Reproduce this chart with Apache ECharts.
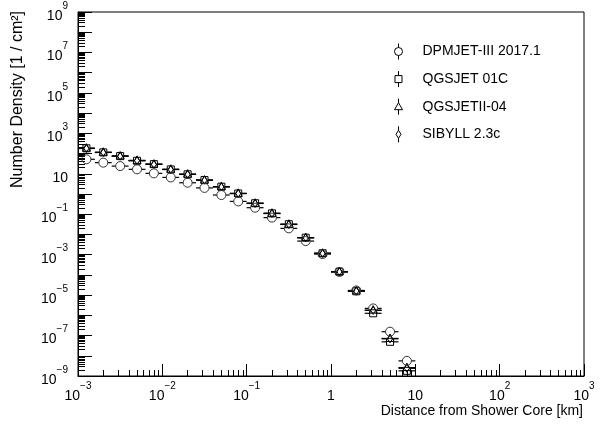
<!DOCTYPE html>
<html>
<head>
<meta charset="utf-8">
<script src="https://cdn.jsdelivr.net/npm/echarts@6/dist/echarts.min.js"></script>
<style>
  html, body { margin: 0; padding: 0; background: #ffffff; }
  #chart { width: 607px; height: 425px; }
</style>
</head>
<body>
<div id="chart"></div>
<script>
// Bin centres of the lateral distribution (km) and the bin edges around them
const distance = [0.001259, 0.001995, 0.003162, 0.005012, 0.007943, 0.01259, 0.01995, 0.03162,
  0.05012, 0.07943, 0.1259, 0.1995, 0.3162, 0.5012, 0.7943, 1.259, 1.995, 3.162, 5.012, 7.943];
const binEdges = [0.001, 0.001585, 0.002512, 0.003981, 0.00631, 0.01, 0.01585, 0.02512, 0.03981,
  0.0631, 0.1, 0.1585, 0.2512, 0.3981, 0.631, 1, 1.585, 2.512, 3.981, 6.31, 10];

// Number density per hadronic interaction model (1 / cm^2)
const dpmjet = [52, 35.5, 24, 16.6, 10.5, 6.6, 3.6, 2.0, 0.89, 0.43, 0.21, 0.068, 0.020, 0.0047,
  1.07e-3, 1.4e-4, 1.7e-5, 2.2e-6, 1.55e-7, 5.6e-9];
const qgsjet01 = [182, 114, 75, 44, 30, 16.4, 9.4, 4.9, 2.3, 1.06, 0.35, 0.11, 0.032, 0.0069,
  1.17e-3, 1.44e-4, 1.55e-5, 1.26e-6, 4.9e-8, 1.8e-9];
const qgsjetII = [185, 116, 76, 46, 30, 16.8, 9.6, 4.9, 2.3, 1.08, 0.35, 0.112, 0.032, 0.0070,
  1.18e-3, 1.46e-4, 1.62e-5, 1.8e-6, 7.2e-8, 2.6e-9];
const sibyll = [178, 113, 74, 45, 29, 16.2, 9.3, 4.8, 2.25, 1.05, 0.34, 0.108, 0.031, 0.0068,
  1.15e-3, 1.42e-4, 1.58e-5, 1.75e-6, 6.9e-8, 2.4e-9];

const seriesNames = ['DPMJET-III 2017.1', 'QGSJET 01C', 'QGSJETII-04', 'SIBYLL 2.3c'];

// Labelled axis values
const xTickValues = [1e-3, 1e-2, 1e-1, 1, 10, 1e2, 1e3];
const yTickValues = [1e-9, 1e-7, 1e-5, 1e-3, 1e-1, 10, 1e3, 1e5, 1e7, 1e9];
const xDecades = [-3, -2, -1, 0, 1, 2];
const yDecades = [-9, -8, -7, -6, -5, -4, -3, -2, -1, 0, 1, 2, 3, 4, 5, 6, 7, 8];

const FONT = '"Liberation Sans", Arial, Helvetica, sans-serif';

function decadeTicks(decades) {
  const major = [], minor = [];
  decades.forEach(function (d) {
    major.push(Math.pow(10, d));
    for (let m = 2; m <= 9; m++) minor.push(m * Math.pow(10, d));
  });
  major.push(Math.pow(10, decades[decades.length - 1] + 1));
  return { major: major, minor: minor };
}
const xTicks = decadeTicks(xDecades);
const yTicks = decadeTicks(yDecades);

// Powers of ten written as 10 with a raised exponent; 1 and 10 stay plain
function powerLabel(v) {
  const e = Math.round(Math.log10(v));
  if (e === 0) return '{b|1}';
  if (e === 1) return '{b|10}';
  return '{b|10}{s|' + (e < 0 ? '\u2212' : '') + Math.abs(e) + '}';
}
const labelRich = {
  b: { fontSize: 14, fontFamily: FONT, color: '#000', lineHeight: 22, verticalAlign: 'bottom' },
  s: { fontSize: 10, fontFamily: FONT, color: '#000', lineHeight: 10, verticalAlign: 'top' }
};

function markerShape(kind, cx, cy) {
  const st = { fill: 'none', stroke: '#000', lineWidth: 1 };
  if (kind === 'circle') {
    return { type: 'circle', shape: { cx: cx, cy: cy, r: 4.5 }, style: { fill: 'none', stroke: '#333', lineWidth: 1 } };
  }
  if (kind === 'square') {
    return { type: 'rect', shape: { x: cx - 3.5, y: cy - 3.5, width: 7, height: 7 }, style: st };
  }
  if (kind === 'triangle') {
    return { type: 'polygon', shape: { points: [[cx, cy - 4.5], [cx + 4, cy + 3], [cx - 4, cy + 3]] }, style: st };
  }
  return { type: 'polygon', shape: { points: [[cx, cy - 4], [cx + 2.5, cy], [cx, cy + 4], [cx - 2.5, cy]] }, style: st };
}

function makeRenderer(kind) {
  return function (params, api) {
    const x = api.value(0), y = api.value(1);
    const p = api.coord([x, y]);
    const lo = api.coord([api.value(2), y]);
    const hi = api.coord([api.value(3), y]);
    const gap = kind === 'circle' ? 4.5 : 3.5;
    return {
      type: 'group',
      children: [
        { type: 'line', shape: { x1: lo[0], y1: p[1], x2: p[0] - gap, y2: p[1] }, style: { stroke: '#000', lineWidth: 1.2 } },
        { type: 'line', shape: { x1: p[0] + gap, y1: p[1], x2: hi[0], y2: p[1] }, style: { stroke: '#000', lineWidth: 1.2 } },
        markerShape(kind, p[0], p[1])
      ]
    };
  };
}

function seriesData(values) {
  return values.map(function (v, i) { return [distance[i], v, binEdges[i], binEdges[i + 1]]; });
}

const modelValues = [dpmjet, qgsjet01, qgsjetII, sibyll];
const markerKinds = ['circle', 'square', 'triangle', 'diamond'];
const legendIcons = [
  'path://M5,0L5,4M5,12L5,16M1,8A4,4,0,1,1,9,8A4,4,0,1,1,1,8Z',
  'path://M5,0L5,4.5M5,11.5L5,16M1.5,4.5L8.5,4.5L8.5,11.5L1.5,11.5Z',
  'path://M5,0L5,4M5,11L5,16M5,4L9,11L1,11Z',
  'path://M5,0L5,4M5,12L5,16M5,4L7.5,8L5,12L2.5,8Z'
];

const series = seriesNames.map(function (name, i) {
  return {
    name: name,
    type: 'custom',
    xAxisIndex: 0,
    yAxisIndex: 0,
    renderItem: makeRenderer(markerKinds[i]),
    data: seriesData(modelValues[i]),
    itemStyle: { color: '#000' },
    clip: true,
    z: 10 - i
  };
});

const chart = echarts.init(document.getElementById('chart'), null, { renderer: 'canvas' });
chart.setOption({
  backgroundColor: '#ffffff',
  animation: false,
  grid: { left: 78, right: 23, top: 12, bottom: 49, show: true, borderColor: '#000', borderWidth: 1, backgroundColor: 'transparent' },
  legend: {
    orient: 'vertical',
    left: 394,
    top: 43,
    padding: 0,
    itemWidth: 38,
    itemHeight: 16,
    itemGap: 10.6,
    selectedMode: false,
    itemStyle: { color: 'transparent', borderColor: '#000', borderWidth: 1 },
    textStyle: { fontSize: 14, fontFamily: FONT, color: '#000' },
    data: seriesNames.map(function (n, i) { return { name: n, icon: legendIcons[i] }; })
  },
  xAxis: [
    {
      type: 'log', logBase: 10, min: 1e-3, max: 1e3, position: 'bottom',
      axisLine: { show: true, lineStyle: { color: '#000', width: 1 } },
      axisTick: { show: true, inside: true, length: 12, customValues: xTicks.major, lineStyle: { color: '#000' } },
      axisLabel: { show: true, margin: 5, customValues: xTickValues, formatter: powerLabel, rich: labelRich },
      splitLine: { show: false }, minorTick: { show: false }
    },
    {
      type: 'log', logBase: 10, min: 1e-3, max: 1e3, position: 'bottom',
      axisLine: { show: false },
      axisTick: { show: true, inside: true, length: 6, customValues: xTicks.minor, lineStyle: { color: '#000' } },
      axisLabel: { show: false }, splitLine: { show: false }
    }
  ],
  yAxis: [
    {
      type: 'log', logBase: 10, min: 1e-9, max: 1e9, position: 'left',
      axisLine: { show: true, lineStyle: { color: '#000', width: 1 } },
      axisTick: { show: true, inside: true, length: 14, customValues: yTicks.major, lineStyle: { color: '#000' } },
      axisLabel: { show: true, margin: 10, customValues: yTickValues, formatter: powerLabel, rich: labelRich },
      splitLine: { show: false }, minorTick: { show: false }
    },
    {
      type: 'log', logBase: 10, min: 1e-9, max: 1e9, position: 'left',
      axisLine: { show: false },
      axisTick: { show: true, inside: true, length: 7, customValues: yTicks.minor, lineStyle: { color: '#000' } },
      axisLabel: { show: false }, splitLine: { show: false }
    }
  ],
  graphic: [
    {
      type: 'text', right: 24, top: 404,
      style: { text: 'Distance from Shower Core [km]', fontSize: 14, fontFamily: FONT, fill: '#000' }
    },
    {
      type: 'text', x: 18, y: 11, rotation: Math.PI / 2,
      style: { text: 'Number Density [1 / cm\u00B2]', fontSize: 16, fontFamily: FONT, fill: '#000', align: 'right', verticalAlign: 'middle' }
    }
  ],
  series: series
});
</script>
</body>
</html>
